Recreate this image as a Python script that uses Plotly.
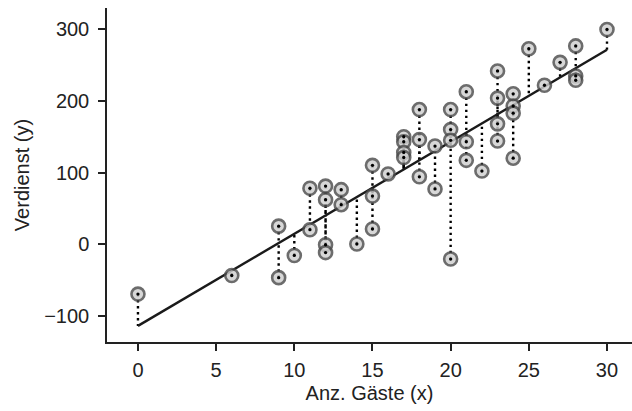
import numpy as np
import plotly.graph_objects as go

guests = [0, 6, 9, 9, 10, 11, 11, 12, 12, 12, 12, 13, 13, 14, 15, 15, 15, 16,
          17, 17, 17, 17, 18, 18, 18, 19, 19, 20, 20, 20, 20, 21, 21, 21, 22,
          23, 23, 23, 23, 24, 24, 24, 24, 25, 26, 27, 28, 28, 28, 30]
profit = [-70, -44, 25, -47, -16, 78, 20, 81, 62, -1, -12, 76, 55, 0, 110, 67, 21, 98,
          150, 143, 128, 121, 188, 146, 94, 137, 77, 188, 160, 145, -21, 213, 143, 117, 102,
          242, 204, 168, 144, 210, 193, 183, 120, 273, 222, 254, 277, 235, 229, 300]

x_ticks = [0, 5, 10, 15, 20, 25, 30]
y_ticks = [-100, 0, 100, 200, 300]
y_tick_text = ["\u2212100", "0", "100", "200", "300"]

x = np.array(guests, dtype=float)
y = np.array(profit, dtype=float)
slope, intercept = np.polyfit(x, y, 1)
yhat = intercept + slope * x

fig = go.Figure()

# residual lines
rx, ry = [], []
for xi, yi, fi in zip(x, y, yhat):
    rx += [xi, xi, None]
    ry += [yi, fi, None]
fig.add_trace(go.Scatter(x=rx, y=ry, mode="lines",
                         line=dict(color="black", width=2.4, dash="2.4px,3.6px"),
                         hoverinfo="skip", showlegend=False))

# regression line
xl = np.array([x.min(), x.max()])
fig.add_trace(go.Scatter(x=xl, y=intercept + slope * xl, mode="lines",
                         line=dict(color="#1a1a1a", width=2.4),
                         showlegend=False))

# points (semi-transparent)
fig.add_trace(go.Scatter(x=x, y=y, mode="markers",
                         marker=dict(size=13, color="#cfcfcf", opacity=0.82,
                                     line=dict(color="#4c4c4c", width=2.6)),
                         showlegend=False))
fig.add_trace(go.Scatter(x=x, y=y, mode="markers",
                         marker=dict(size=3.3, color="black"),
                         hoverinfo="skip", showlegend=False))

axis_common = dict(showgrid=False, zeroline=False, showline=True,
                   linecolor="#222222", linewidth=1.5,
                   ticks="outside", ticklen=7, tickwidth=1.5, tickcolor="#222222",
                   tickfont=dict(size=20, color="#222222"),
                   title_font=dict(size=20, color="#222222"))

fig.update_xaxes(range=[-1.98, 31.6], tickvals=x_ticks, ticklabelstandoff=2,
                 title_text="Anz. Gäste (x)", title_standoff=6, **axis_common)
fig.update_yaxes(range=[-137, 330], tickvals=y_ticks, ticktext=y_tick_text,
                 ticklabelstandoff=5,
                 title_text="Verdienst (y)", title_standoff=9, **axis_common)

fig.update_layout(width=632, height=411,
                  margin=dict(l=107, r=0, t=8, b=69),
                  plot_bgcolor="white", paper_bgcolor="white",
                  font=dict(family="Liberation Sans, Arial, sans-serif"))

fig.write_html("out.html")
